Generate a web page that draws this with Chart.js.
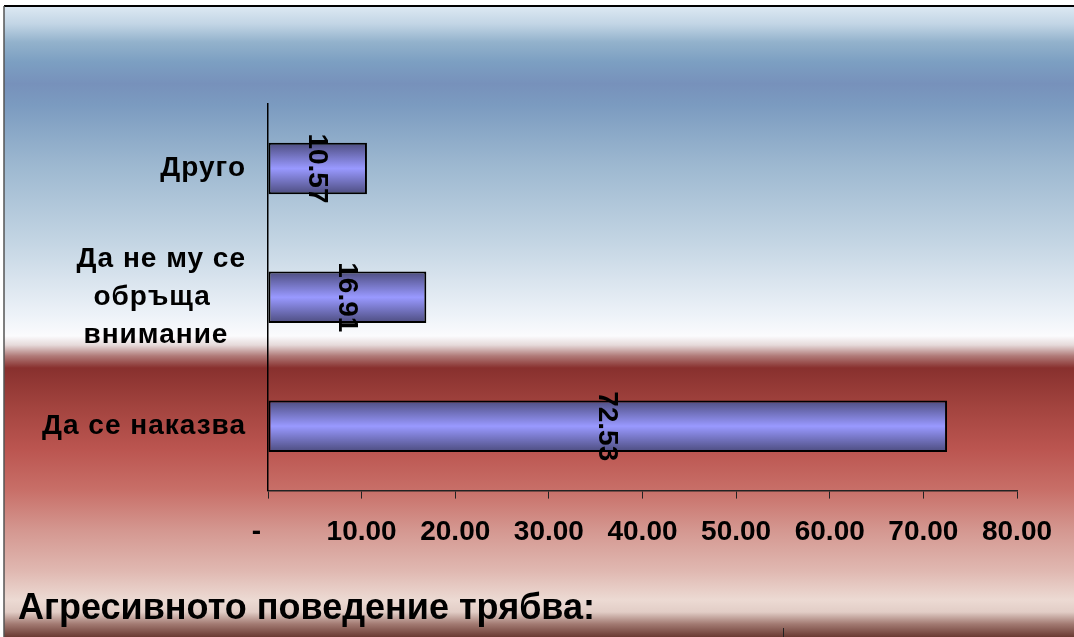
<!DOCTYPE html>
<html>
<head>
<meta charset="utf-8">
<script src="https://cdn.jsdelivr.net/npm/chart.js@4/dist/chart.umd.min.js"></script>
<style>
html,body{margin:0;padding:0;background:#fff;}
#wrap{width:1074px;height:637px;position:relative;}
</style>
</head>
<body>
<div id="wrap"><canvas id="c" width="1074" height="637"></canvas></div>
<script>
const categories = ['Друго', ['Да не му се', 'обръща    ', 'внимание  '], 'Да се наказва'];
const values = [10.57, 16.91, 72.53];
const xTicks = [0, 10, 20, 30, 40, 50, 60, 70, 80];
const titleText = 'Агресивното поведение трябва:';

const FONT = '"Liberation Sans", Arial, sans-serif';

const bgPlugin = {
  id: 'bg',
  beforeDraw(chart) {
    const ctx = chart.ctx;
    const H = chart.height, W = chart.width;
    ctx.save();
    ctx.fillStyle = '#ffffff';
    ctx.fillRect(0, 0, W, H);
    const g = ctx.createLinearGradient(0, 6, 0, H);
    const stops = [
      [6, '#dde9f3'], [24, '#c2d5e5'], [42, '#93b2cc'], [62, '#7c9fc2'],
      [84, '#7791bb'], [105, '#7b9bc0'], [165, '#9db8d0'], [245, '#c5d6e4'],
      [315, '#edf2f8'], [336, '#fbfbfd'], [345, '#e6dada'], [356, '#b07a78'],
      [368, '#88302e'], [408, '#a3443f'], [449, '#bb5550'], [490, '#c86f68'],
      [530, '#d49790'], [571, '#e0b8b1'], [600, '#ecdad3'], [612, '#e2cdc6'],
      [624, '#a27a72'], [637, '#6a3a32']
    ];
    stops.forEach(([y, c]) => g.addColorStop(Math.min(1, Math.max(0, (y - 6) / (H - 6))), c));
    ctx.fillStyle = g;
    ctx.fillRect(4, 6, W - 4, H - 6);
    ctx.strokeStyle = '#000';
    ctx.lineWidth = 2;
    ctx.beginPath();
    ctx.moveTo(4, 6); ctx.lineTo(W, 6);
    ctx.stroke();
    ctx.strokeStyle = '#555';
    ctx.lineWidth = 1.5;
    ctx.beginPath();
    ctx.moveTo(4, 6); ctx.lineTo(4, H);
    ctx.stroke();
    ctx.strokeStyle = '#222';
    ctx.lineWidth = 1;
    ctx.beginPath();
    ctx.moveTo(783.5, 628); ctx.lineTo(783.5, H);
    ctx.stroke();
    ctx.restore();
  },
  afterLayout(chart) {
    const s = chart.scales.y;
    if (s && !s._lsPatched) {
      const orig = s.drawLabels.bind(s);
      s.drawLabels = function (area) {
        const ctx = this.ctx;
        ctx.save();
        ctx.letterSpacing = '1px';
        orig(area);
        ctx.restore();
      };
      s._lsPatched = true;
    }
  }
};

const labelPlugin = {
  id: 'vlabels',
  afterDatasetsDraw(chart) {
    const ctx = chart.ctx;
    const meta = chart.getDatasetMeta(0);
    ctx.save();
    ctx.font = 'bold 28px ' + FONT;
    ctx.fillStyle = '#000';
    ctx.textAlign = 'center';
    ctx.textBaseline = 'middle';
    meta.data.forEach((el, i) => {
      const cx = (el.x + el.base) / 2;
      ctx.save();
      ctx.translate(cx, el.y);
      ctx.rotate(Math.PI / 2);
      ctx.fillText(values[i].toFixed(2), 0, 1);
      ctx.restore();
    });
    ctx.restore();
  }
};

function barGradient(context) {
  const chart = context.chart;
  const y = chart.scales && chart.scales.y;
  if (!y || context.dataIndex === undefined) return '#9999ff';
  const yc = y.getPixelForValue(context.dataIndex);
  let step = Math.abs(y.getPixelForValue(1) - y.getPixelForValue(0));
  if (!isFinite(yc) || !isFinite(step) || step <= 0) return '#9999ff';
  const h = step * 0.4;
  const g = chart.ctx.createLinearGradient(0, yc - h / 2, 0, yc + h / 2);
  g.addColorStop(0, '#4c4c7e');
  g.addColorStop(0.5, '#9999ff');
  g.addColorStop(1, '#4c4c7e');
  return g;
}

new Chart(document.getElementById('c'), {
  type: 'bar',
  data: {
    labels: categories,
    datasets: [{
      data: values,
      backgroundColor: barGradient,
      borderColor: '#000',
      borderWidth: 2,
      borderSkipped: false,
      categoryPercentage: 1,
      barPercentage: 0.4
    }]
  },
  options: {
    indexAxis: 'y',
    responsive: false,
    animation: false,
    events: [],
    layout: { padding: { left: 18, right: 57, top: 104, bottom: 0 } },
    plugins: {
      legend: { display: false },
      tooltip: { enabled: false },
      title: {
        display: true,
        text: titleText,
        position: 'bottom',
        align: 'start',
        color: '#000',
        font: { family: FONT, size: 36, weight: 'bold', lineHeight: 1.15 },
        padding: { top: 0, bottom: 7 }
      }
    },
    scales: {
      x: {
        min: 0, max: 80,
        afterBuildTicks(scale) { scale.ticks = xTicks.map(v => ({ value: v })); },
        afterFit(scale) { scale.height = 98; },
        border: { display: true, color: '#222', width: 1.5 },
        grid: { drawOnChartArea: false, drawTicks: true, tickLength: 8, color: '#222', lineWidth: 1 },
        ticks: {
          color: '#000',
          padding: 17,
          maxRotation: 0,
          autoSkip: false,
          font: { family: FONT, size: 28, weight: 'bold' },
          callback(v) { return v === 0 ? '-   ' : Number(v).toFixed(2); }
        }
      },
      y: {
        afterFit(scale) { scale.width = 250; },
        border: { display: true, color: '#000', width: 1.5 },
        grid: { display: false, drawTicks: false },
        ticks: {
          color: '#000',
          padding: 22,
          crossAlign: 'near',
          font: { family: FONT, size: 28, weight: 'bold', lineHeight: '38px' }
        }
      }
    }
  },
  plugins: [bgPlugin, labelPlugin]
});
</script>
</body>
</html>
